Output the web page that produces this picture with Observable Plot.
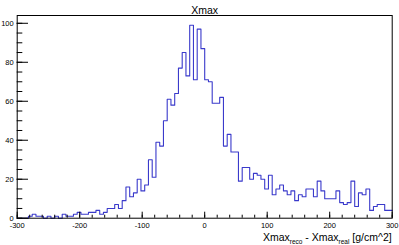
<!DOCTYPE html>
<html><head><meta charset="utf-8">
<script src="https://cdn.jsdelivr.net/npm/d3@7"></script>
<script src="https://cdn.jsdelivr.net/npm/@observablehq/plot@0.6"></script>
<style>body{margin:0;background:#fff}</style>
</head><body><div id="chart"></div>
<script>
const title = "Xmax";
const xMin = -300, xMax = 300, binWidth = 6;
const counts = [
  0, 0, 0, 1, 2, 1, 1, 0, 1, 0,
  1, 0, 2, 1, 1, 2, 3, 2, 2, 3,
  3, 4, 2, 3, 5, 5, 7, 5, 9, 16,
  11, 13, 20, 14, 17, 30, 21, 39, 37, 50,
  61, 58, 64, 77, 85, 73, 99, 71, 97, 87,
  71, 70, 59, 59, 62, 37, 43, 34, 34, 19,
  26, 26, 20, 23, 22, 20, 15, 22, 12, 15,
  17, 14, 12, 14, 9, 12, 11, 15, 15, 11,
  19, 14, 10, 10, 10, 14, 8, 7, 8, 19,
  6, 13, 12, 15, 4, 6, 7, 7, 4, 4
];
const yMax = 104;
const xMajorTicks = [-300, -200, -100, 0, 100, 200, 300];
const xMinorTicks = d3.range(-300, 301, 20);
const yMajorTicks = [0, 20, 40, 60, 80, 100];
const yMinorTicks = d3.range(0, 104, 5);
const axisLabelParts = [
  {text: "Xmax", sub: false},
  {text: "reco", sub: true},
  {text: " - Xmax", sub: false},
  {text: "real", sub: true},
  {text: " [g/cm^2]", sub: false}
];

const font = "'Liberation Sans', Arial, Helvetica, sans-serif";
const steps = counts.map((c, i) => ({x: xMin + i * binWidth, y: c}));
steps.push({x: xMax, y: counts[counts.length - 1]});
const fmt = d => String(d);

const plot = Plot.plot({
  width: 399, height: 245,
  marginLeft: 16.7, marginRight: 7.3, marginTop: 15, marginBottom: 27.3,
  x: {domain: [xMin, xMax], label: null},
  y: {domain: [0, yMax], label: null},
  style: {fontFamily: font, background: "#fff", color: "#000", overflow: "visible"},
  marks: [
    Plot.line(steps, {x: "x", y: "y", curve: "step-after", stroke: "#3a3acb", strokeWidth: 1.1}),
    Plot.axisX({ticks: xMinorTicks, anchor: "bottom", tickSize: -3, text: null, label: null, stroke: "#000"}),
    Plot.axisX({ticks: xMajorTicks, anchor: "bottom", tickSize: -6, text: null, label: null, stroke: "#000"}),
    Plot.axisX({ticks: xMajorTicks, anchor: "bottom", tickSize: 0, tickPadding: 4.2, fontSize: 7.5, tickFormat: fmt, label: null}),
    Plot.axisY({ticks: yMinorTicks, anchor: "left", tickSize: -5.6, text: null, label: null, stroke: "#000"}),
    Plot.axisY({ticks: yMajorTicks, anchor: "left", tickSize: 0, tickPadding: 3.5, fontSize: 7.5, tickFormat: fmt, label: null}),
    Plot.axisY({ticks: yMajorTicks, anchor: "left", tickSize: -11.3, text: null, label: null, stroke: "#000"}),
    Plot.frame({stroke: "#000", strokeWidth: 1}),
    Plot.text([title], {frameAnchor: "top", dy: -8.5, fontSize: 10.5, fill: "#000"})
  ]
});

const svg = d3.select(plot);
const xs = plot.scale("x");
const label = svg.append("text")
  .attr("x", xs.apply(xMax))
  .attr("y", 241)
  .attr("text-anchor", "end")
  .attr("font-size", 10.5)
  .attr("font-family", font)
  .attr("fill", "#000");
let shifted = false;
for (const p of axisLabelParts) {
  const ts = label.append("tspan").text(p.text);
  if (p.sub && !shifted) { ts.attr("font-size", 6.5).attr("dy", 2.5); shifted = true; }
  else if (!p.sub && shifted) { ts.attr("dy", -2.5); shifted = false; }
}
document.getElementById("chart").appendChild(plot);
</script>
</body></html>
